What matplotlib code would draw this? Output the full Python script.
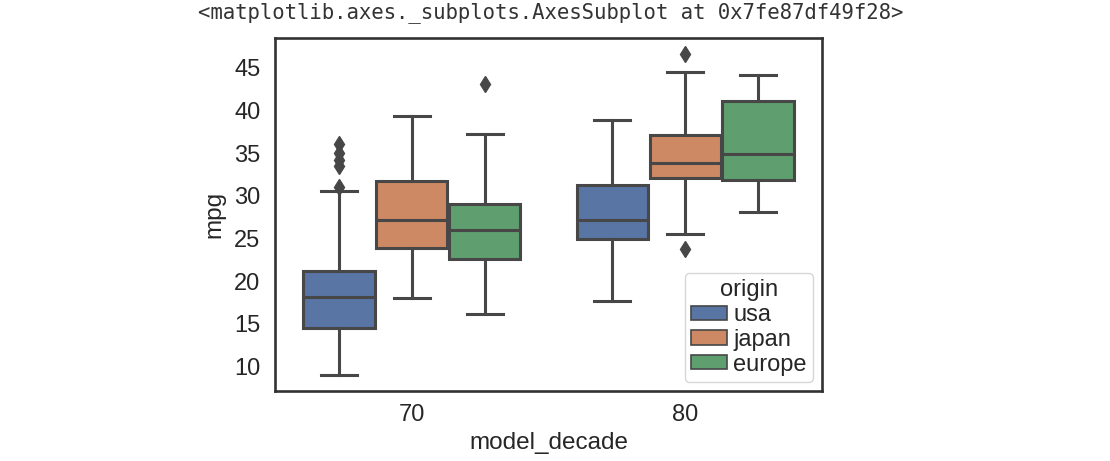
import matplotlib
matplotlib.use("Agg")
import matplotlib.pyplot as plt
from matplotlib.patches import Patch

# decades on the x axis, origins as hue
decades = ["70", "80"]
origins = ["usa", "japan", "europe"]
colors = ["#5875a4", "#cc8963", "#5f9e6e"]
gray = "#474747"

# box statistics: [whislo, q1, med, q3, whishi]
stats_70 = {
    "usa":    [9.0, 14.5, 18.1, 21.2, 30.5],
    "japan":  [18.0, 23.9, 27.2, 31.7, 39.3],
    "europe": [16.2, 22.6, 26.0, 29.0, 37.2],
}
stats_80 = {
    "usa":    [17.7, 24.9, 27.1, 31.3, 38.9],
    "japan":  [25.5, 32.1, 33.8, 37.1, 44.5],
    "europe": [28.1, 31.9, 34.9, 41.1, 44.2],
}
fliers_70 = {
    "usa":    [31.0, 33.5, 34.2, 35.0, 36.1],
    "japan":  [],
    "europe": [43.1],
}
fliers_80 = {
    "usa":    [],
    "japan":  [23.7, 46.6],
    "europe": [],
}

plt.rcParams["font.family"] = ["Liberation Sans", "DejaVu Sans"]

fig = plt.figure(figsize=(11.1, 4.61), dpi=100)
ax = fig.add_axes([275 / 1110, 1 - 391 / 461, 547 / 1110, 353 / 461])

n = len(origins)
each = 0.8 / n
offsets = [(i - (n - 1) / 2) * each for i in range(n)]

for di, (stats, fliers) in enumerate([(stats_70, fliers_70), (stats_80, fliers_80)]):
    for oi, org in enumerate(origins):
        lo, q1, med, q3, hi = stats[org]
        bx = [{"whislo": lo, "q1": q1, "med": med, "q3": q3, "whishi": hi,
               "fliers": fliers[org]}]
        ax.bxp(bx, positions=[di + offsets[oi]], widths=each * 0.98,
               patch_artist=True, manage_ticks=False,
               boxprops=dict(facecolor=colors[oi], edgecolor=gray, linewidth=2.2),
               whiskerprops=dict(color=gray, linewidth=2.2),
               capprops=dict(color=gray, linewidth=2.2),
               medianprops=dict(color=gray, linewidth=2.2),
               flierprops=dict(marker="d", markerfacecolor=gray,
                               markeredgecolor=gray, markersize=8))

ax.set_xlim(-0.5, len(decades) - 0.5)
ax.set_xticks(range(len(decades)))
ax.set_xticklabels(decades)
ax.set_yticks([10, 15, 20, 25, 30, 35, 40, 45])
ax.tick_params(axis="both", length=0, labelsize=17, colors="#262626")
ax.tick_params(axis="y", pad=10.5)
ax.tick_params(axis="x", pad=9.5)
ax.set_xlabel("model_decade", fontsize=17.5, color="#262626", labelpad=4)
ax.set_ylabel("mpg", fontsize=17.5, color="#262626", labelpad=6)
for sp in ax.spines.values():
    sp.set_color("#333333")
    sp.set_linewidth(1.9)

handles = [Patch(facecolor=c, edgecolor=gray, linewidth=1.2) for c in colors]
leg = ax.legend(handles, origins, title="origin", loc="lower right",
                fontsize=17, title_fontsize=17, handlelength=1.55,
                handleheight=0.55, handletextpad=0.25, labelspacing=0.12,
                borderpad=0.25, borderaxespad=0.4, frameon=True)
leg.get_frame().set_edgecolor("0.8")
leg.get_title().set_color("#262626")
for t in leg.get_texts():
    t.set_color("#262626")

fig.text(0.496, 0.972, "<matplotlib.axes._subplots.AxesSubplot at 0x7fe87df49f28>",
         family="DejaVu Sans Mono", fontsize=14.9, ha="center", va="center",
         color="#333333")

fig.savefig("out.png", dpi=100)
